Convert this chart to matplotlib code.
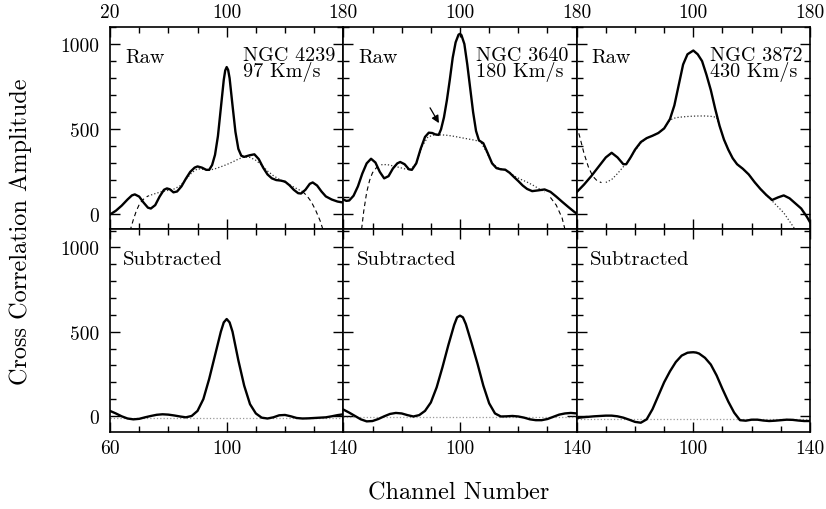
import numpy as np
import matplotlib
matplotlib.use("Agg")
import matplotlib.pyplot as plt
from matplotlib.ticker import FixedLocator, MultipleLocator

# ---------------------------------------------------------
# Correlacion cruzada: crudo (arriba) y restado (abajo)
# ---------------------------------------------------------

galaxias = ["NGC 4239", "NGC 3640", "NGC 3872"]
velocidades = ["97 Km/s", "180 Km/s", "430 Km/s"]

# --- NGC 4239 ---
raw_x_4239 = [20, 24, 28, 32, 35, 37, 40, 43, 46, 48, 51, 54, 57, 59, 61, 63.5, 66, 69, 72, 75,
              78, 80, 83, 86, 88, 90, 92, 94, 96, 98, 99, 100, 101, 102, 104, 106, 108, 110, 112,
              116, 119, 122, 125, 128, 131, 134, 137, 140, 143, 146, 149, 151, 154, 157, 159,
              162, 165, 168, 172, 176, 180]
raw_y_4239 = [0, 22, 52, 88, 112, 118, 105, 70, 40, 35, 55, 105, 145, 153, 148, 130, 135, 165, 210, 250,
              275, 282, 275, 262, 262, 290, 350, 460, 625, 790, 845, 865, 848, 800, 640, 485, 385, 345, 338,
              348, 353, 325, 275, 235, 212, 202, 199, 193, 172, 145, 125, 123, 145, 180, 188,
              170, 135, 106, 88, 76, 70]
fit_x_4239 = [32, 34, 36, 38, 40, 42, 44, 46, 50, 55, 60, 64, 68, 72, 76, 80, 84, 88, 92, 96, 100,
              104, 108, 112, 116, 120, 124, 128, 132, 136, 140, 144, 148, 152, 155, 158, 161, 164, 166, 168]
fit_y_4239 = [-140, -88, -30, 20, 58, 82, 98, 108, 120, 133, 142, 150, 168, 205, 245, 268, 265, 260, 268, 280, 293,
              308, 325, 338, 335, 318, 290, 255, 228, 207, 188, 170, 152, 135, 110, 75, 25, -35, -88, -140]

# --- NGC 3640 ---
raw_x_3640 = [20, 22, 24, 27, 30, 33, 36, 39, 42, 45, 48, 51, 54, 57, 59, 62, 65, 67, 70, 73, 76, 78.6,
              81, 83, 85.4, 87, 89, 91, 93, 95, 97, 99, 100, 101, 103, 105, 107, 109, 111, 113, 116,
              119, 122, 125, 128, 131, 134, 137, 140, 143, 146, 149.5, 154, 158, 162, 166, 170, 174, 178, 180]
raw_y_3640 = [88, 80, 82, 110, 165, 240, 300, 327, 305, 250, 212, 225, 270, 300, 308, 295, 265, 262, 300, 385, 455, 480,
              478, 470, 467, 500, 570, 670, 790, 920, 1010, 1055, 1060, 1052, 1000, 880, 740, 600, 490, 435, 418,
              360, 300, 272, 265, 263, 245, 220, 196, 170, 150, 137, 142, 147, 133, 105, 75, 46, 18, 5]
fit_x_3640 = [31, 32.5, 34, 36, 38, 40, 43, 46, 50, 54, 58, 62, 66, 70, 74, 78, 82, 86, 90, 95, 100,
              105, 110, 114, 118, 122, 126, 130, 134, 138, 142, 146, 150, 154, 158, 162, 166, 170, 172, 174]
fit_y_3640 = [-130, -88, 20, 130, 200, 245, 278, 292, 293, 285, 277, 268, 262, 300, 400, 455, 466, 467, 466, 460, 452,
              444, 436, 428, 370, 300, 275, 263, 245, 222, 205, 190, 172, 152, 132, 100, 55, -20, -88, -140]

# --- NGC 3872 ---
raw_x_3872 = [20, 25, 30, 35, 40, 44, 48, 52, 54, 57, 60, 64, 68, 72, 76, 80, 84, 87, 90, 93, 96, 100,
              103, 106, 109, 112, 115, 118, 121, 124, 127, 130, 134, 138, 142, 146, 150, 154, 158, 162,
              166, 170, 174, 178, 180]
raw_y_3872 = [131, 175, 225, 280, 335, 362, 335, 295, 295, 335, 380, 425, 448, 462, 478, 505, 560, 640, 760, 880, 940, 962,
              940, 900, 820, 730, 620, 520, 440, 380, 330, 295, 268, 235, 190, 150, 115, 85, 100, 112,
              95, 65, 35, -15, -45]
fit_x_3872 = [20, 22, 25, 28, 31, 34, 37, 40, 44, 48, 52, 56, 60, 64, 68, 72, 76, 80, 84, 88, 92, 96, 100,
              104, 108, 112, 116, 118, 121, 124, 127, 130, 134, 138, 142, 146, 150, 154, 158, 162, 166, 170, 172]
fit_y_3872 = [520, 460, 360, 280, 225, 198, 187, 188, 205, 240, 280, 320, 375, 420, 448, 462, 478, 505, 555, 568, 572, 575, 577,
              578, 578, 576, 570, 520, 440, 380, 330, 295, 268, 235, 190, 150, 115, 80, 45, 10, -40, -90, -120]

# --- Restados (canales 60-140) ---
sub_x = [60, 62, 64, 66, 68, 70, 72, 74, 76, 78, 80, 82, 84, 86, 88, 90, 92, 94, 96, 98, 99, 100, 101,
         102, 104, 106, 108, 110, 112, 114, 116, 118, 120, 122, 124, 126, 128, 130, 132, 134, 136, 138, 140]
sub_y_4239 = [30, 15, -2, -15, -20, -17, -8, 0, 7, 10, 8, 3, -3, -8, 0, 30, 100, 220, 360, 500, 555, 575, 555,
              500, 330, 180, 70, 15, -10, -15, -8, 4, 6, -2, -12, -15, -14, -12, -10, -8, -2, 5, 10]
sub_y_3640 = [38, 20, 0, -20, -32, -30, -18, -2, 12, 18, 15, 5, -3, 5, 30, 80, 170, 290, 420, 540, 585, 595, 585,
              545, 430, 310, 180, 75, 15, -3, -2, 0, -3, -10, -20, -25, -25, -18, -5, 8, 15, 18, 15]
sub_y_3872 = [-12, -8, -5, -2, 0, 2, 2, -2, -10, -22, -35, -40, -20, 40, 120, 200, 265, 320, 358, 375, 377, 378, 376,
              370, 345, 305, 240, 160, 85, 20, -25, -28, -22, -22, -27, -30, -28, -25, -22, -23, -27, -30, -30]
base_sub = [-10, -6, -15]

raw_x = [raw_x_4239, raw_x_3640, raw_x_3872]
raw_y = [raw_y_4239, raw_y_3640, raw_y_3872]
fit_x = [fit_x_4239, fit_x_3640, fit_x_3872]
fit_y = [fit_y_4239, fit_y_3640, fit_y_3872]
sub_y = [sub_y_4239, sub_y_3640, sub_y_3872]
# tramos discontinuos del ajuste (izq <=, der >=)
dash_izq = [46, 44, 38]
dash_der = [152, 160, 999]

plt.rcParams["font.family"] = "cmr10"
plt.rcParams["mathtext.fontset"] = "cm"
plt.rcParams["axes.unicode_minus"] = False

fig, axes = plt.subplots(2, 3, figsize=(8.26, 5.10), dpi=100)
fig.subplots_adjust(left=0.1332, right=0.9806, top=0.9451, bottom=0.151, wspace=0, hspace=0)

for i in range(3):
    # ----- fila superior: crudo -----
    ax = axes[0, i]
    fx = np.array(fit_x[i])
    fy = np.array(fit_y[i])
    izq = fx <= dash_izq[i]
    der = fx >= dash_der[i]
    med = (fx >= dash_izq[i]) & (fx <= dash_der[i])
    ax.plot(fx[izq], fy[izq], color="k", lw=0.8, dashes=(4, 3))
    ax.plot(fx[der], fy[der], color="k", lw=0.8, dashes=(4, 3))
    ax.plot(fx[med], fy[med], color="#333333", lw=0.9, ls=":")
    ax.plot(raw_x[i], raw_y[i], color="k", lw=1.7)

    ax.set_xlim(20, 180)
    ax.set_ylim(-88, 1100)
    ax.xaxis.set_major_locator(FixedLocator([20, 100, 180]))
    ax.xaxis.set_minor_locator(MultipleLocator(20))
    if i == 0:
        ax.set_xticklabels(["20", "100", "180"])
    else:
        ax.set_xticklabels(["", "100", "180"])
    ax.tick_params(axis="x", labeltop=True, labelbottom=False, pad=4)

    ax.text(0.065, 0.895, "Raw", transform=ax.transAxes, fontsize=14.5, va="top", ha="left")
    ax.text(0.57, 0.905, galaxias[i] + "\n" + velocidades[i], transform=ax.transAxes,
            fontsize=14.5, va="top", ha="left", linespacing=0.82)

    # ----- fila inferior: restado -----
    ax2 = axes[1, i]
    ax2.axhline(base_sub[i], color="#999999", lw=0.9, ls=":")
    ax2.plot(sub_x, sub_y[i], color="k", lw=1.7)
    ax2.set_xlim(60, 140)
    ax2.set_ylim(-95, 1106)
    ax2.xaxis.set_major_locator(FixedLocator([60, 100, 140]))
    ax2.xaxis.set_minor_locator(MultipleLocator(10))
    if i == 0:
        ax2.set_xticklabels(["60", "100", "140"])
    else:
        ax2.set_xticklabels(["", "100", "140"])
    ax2.tick_params(axis="x", labeltop=False, labelbottom=True, pad=5)
    ax2.text(0.057, 0.9, "Subtracted", transform=ax2.transAxes, fontsize=15, va="top", ha="left")

    for a in (ax, ax2):
        a.yaxis.set_major_locator(FixedLocator([0, 500, 1000]))
        a.yaxis.set_minor_locator(MultipleLocator(100))
        a.tick_params(which="both", direction="in", top=True, bottom=True, left=True, right=True,
                      labelsize=14, width=1.0)
        a.tick_params(which="major", length=7)
        a.tick_params(which="minor", length=4)
        a.tick_params(axis="y", labelleft=(i == 0), pad=8)
        for s in a.spines.values():
            s.set_linewidth(1.2)
        if i == 0:
            a.set_yticklabels(["0", "500", "1000"])

# flecha en NGC 3640
axes[0, 1].annotate("", xy=(86.5, 522), xytext=(78.5, 640),
                    arrowprops=dict(arrowstyle="-|>", color="k", lw=0.9, mutation_scale=11))

fig.text(0.025, 0.546, "Cross Correlation Amplitude", rotation=90, fontsize=17.5,
         ha="center", va="center")
fig.text(0.555, 0.033, "Channel Number", fontsize=17.5, ha="center", va="center")

plt.savefig("out.png", dpi=100)
plt.close()
